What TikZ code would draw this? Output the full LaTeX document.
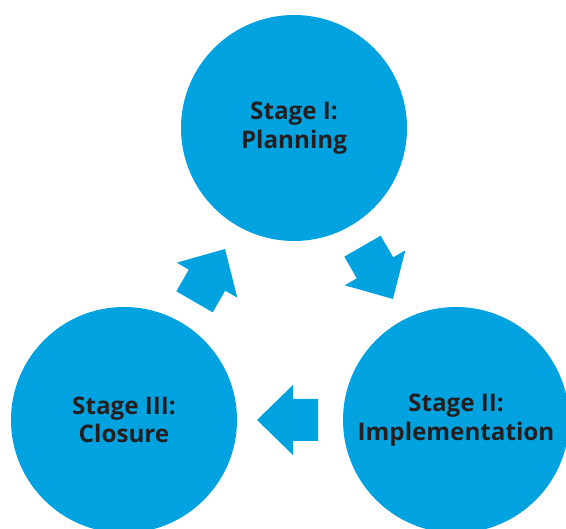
\documentclass[tikz,border=0pt]{standalone}
\usepackage{fontspec}
\setmainfont{Open Sans}
\definecolor{stageblue}{RGB}{0,163,223}
\definecolor{stagetext}{RGB}{35,31,32}
\tikzset{
  stagecircle/.style={circle, fill=stageblue, minimum size=226pt, inner sep=0pt,
    text=stagetext, font=\fontsize{24.2}{28.5}\selectfont\bfseries, align=center},
  blockarrow/.pic={
    \fill[stageblue] (0,0) -- (36,35) -- (36,21) -- (61,21) -- (61,-21) -- (36,-21) -- (36,-35) -- cycle;
  }
}
\begin{document}
\begin{tikzpicture}[x=1pt,y=-1pt]
\useasboundingbox (0,0) rectangle (566,529);
\clip (0,0) rectangle (566,529);
\node[stagecircle] (planning) at (294,128) {Stage I:\\Planning};
\node[stagecircle] (closure) at (124,420) {Stage III:\\Closure};
\node[stagecircle] (impl) at (456,420) {Stage II:\\Implementation};
% arrows (tip positions)
\coordinate (tipA) at (225,249);
\coordinate (tipB) at (393,299);
\coordinate (tipC) at (257,420);
\pic[rotate=-120] at (tipA) {blockarrow};
\pic[rotate=120] at (tipB) {blockarrow};
\pic at (tipC) {blockarrow};
\end{tikzpicture}
\end{document}
